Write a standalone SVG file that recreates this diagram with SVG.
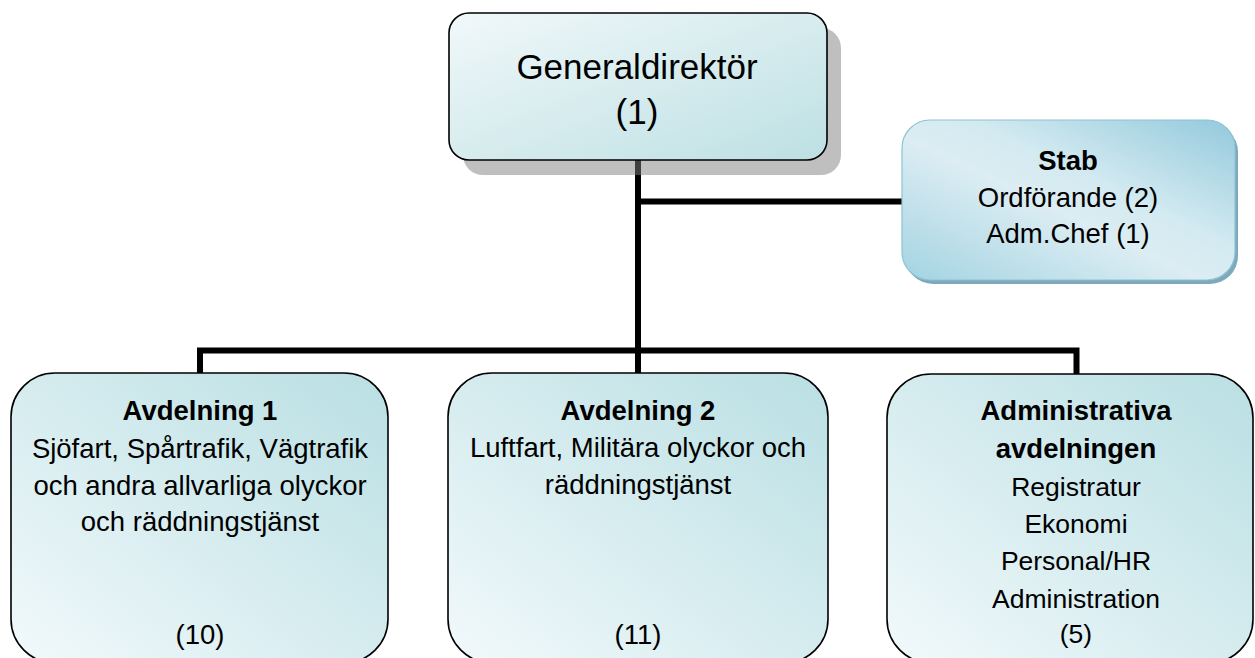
<svg xmlns="http://www.w3.org/2000/svg" width="1255" height="658" viewBox="0 0 1255 658">
<defs>
<linearGradient id="gBox" x1="0" y1="1" x2="1" y2="0">
<stop offset="0" stop-color="#f2f9fb"/>
<stop offset="1" stop-color="#b9dfe3"/>
</linearGradient>
<linearGradient id="gGD" x1="0" y1="0" x2="1" y2="1">
<stop offset="0" stop-color="#f1f8fa"/>
<stop offset="1" stop-color="#bde0e3"/>
</linearGradient>
<linearGradient id="gStab" x1="0" y1="1" x2="1" y2="0">
<stop offset="0" stop-color="#a3d3e2"/>
<stop offset="0.45" stop-color="#dcedf3"/>
<stop offset="0.6" stop-color="#d3eaf1"/>
<stop offset="1" stop-color="#93c9dc"/>
</linearGradient>
</defs>
<style>
.t{font-family:"Liberation Sans",Arial,sans-serif;fill:#000;text-anchor:middle}
.s{font-size:27.5px}
.a{font-size:26.5px}
.b{font-size:27.5px;font-weight:bold}
.g{font-size:35px}
.box{stroke:#000;stroke-width:1.6}
.con{stroke:#000;stroke-width:6;fill:none}
</style>
<g id="connectors">
<line class="con" x1="638" y1="158" x2="638" y2="353"/>
<line class="con" x1="638" y1="201.5" x2="903" y2="201.5"/>
<polyline class="con" points="200,374 200,350.5 1076.5,350.5 1076.5,374"/>
<line class="con" x1="638" y1="350" x2="638" y2="374"/>
</g>
<g id="gd">
<rect x="463" y="28" width="378" height="147" rx="20" fill="#808080" fill-opacity="0.5"/>
<rect class="box" x="449" y="13" width="378" height="147" rx="20" fill="url(#gGD)"/>
<text class="t g" x="637" y="79">Generaldirektör</text>
<text class="t g" x="637" y="124">(1)</text>
</g>
<g id="stab">
<rect x="905" y="124" width="333" height="160" rx="28" fill="#7fa9ba"/>
<rect x="902" y="120" width="333" height="160" rx="28" fill="url(#gStab)" stroke="#8cc3d4" stroke-width="1.2"/>
<text class="t b" x="1068" y="170">Stab</text>
<text class="t s" x="1068" y="207">Ordförande (2)</text>
<text class="t s" x="1068" y="243">Adm.Chef (1)</text>
</g>
<g id="avd1">
<rect class="box" x="11" y="373" width="377" height="290" rx="44" fill="url(#gBox)"/>
<text class="t b" x="200" y="420">Avdelning 1</text>
<text class="t s" x="200" y="458">Sjöfart, Spårtrafik, Vägtrafik</text>
<text class="t s" x="200" y="495">och andra allvarliga olyckor</text>
<text class="t s" x="200" y="531">och räddningstjänst</text>
<text class="t s" x="200" y="644">(10)</text>
</g>
<g id="avd2">
<rect class="box" x="448" y="373" width="380" height="290" rx="44" fill="url(#gBox)"/>
<text class="t b" x="638" y="420">Avdelning 2</text>
<text class="t s" x="638" y="457">Luftfart, Militära olyckor och</text>
<text class="t s" x="638" y="494">räddningstjänst</text>
<text class="t s" x="638" y="644">(11)</text>
</g>
<g id="admin">
<rect class="box" x="887" y="374" width="366" height="289" rx="44" fill="url(#gBox)"/>
<text class="t b" x="1076" y="420">Administrativa</text>
<text class="t b" x="1076" y="458">avdelningen</text>
<text class="t a" x="1076" y="496">Registratur</text>
<text class="t a" x="1076" y="533">Ekonomi</text>
<text class="t a" x="1076" y="570">Personal/HR</text>
<text class="t a" x="1076" y="608">Administration</text>
<text class="t a" x="1076" y="643">(5)</text>
</g>
</svg>
